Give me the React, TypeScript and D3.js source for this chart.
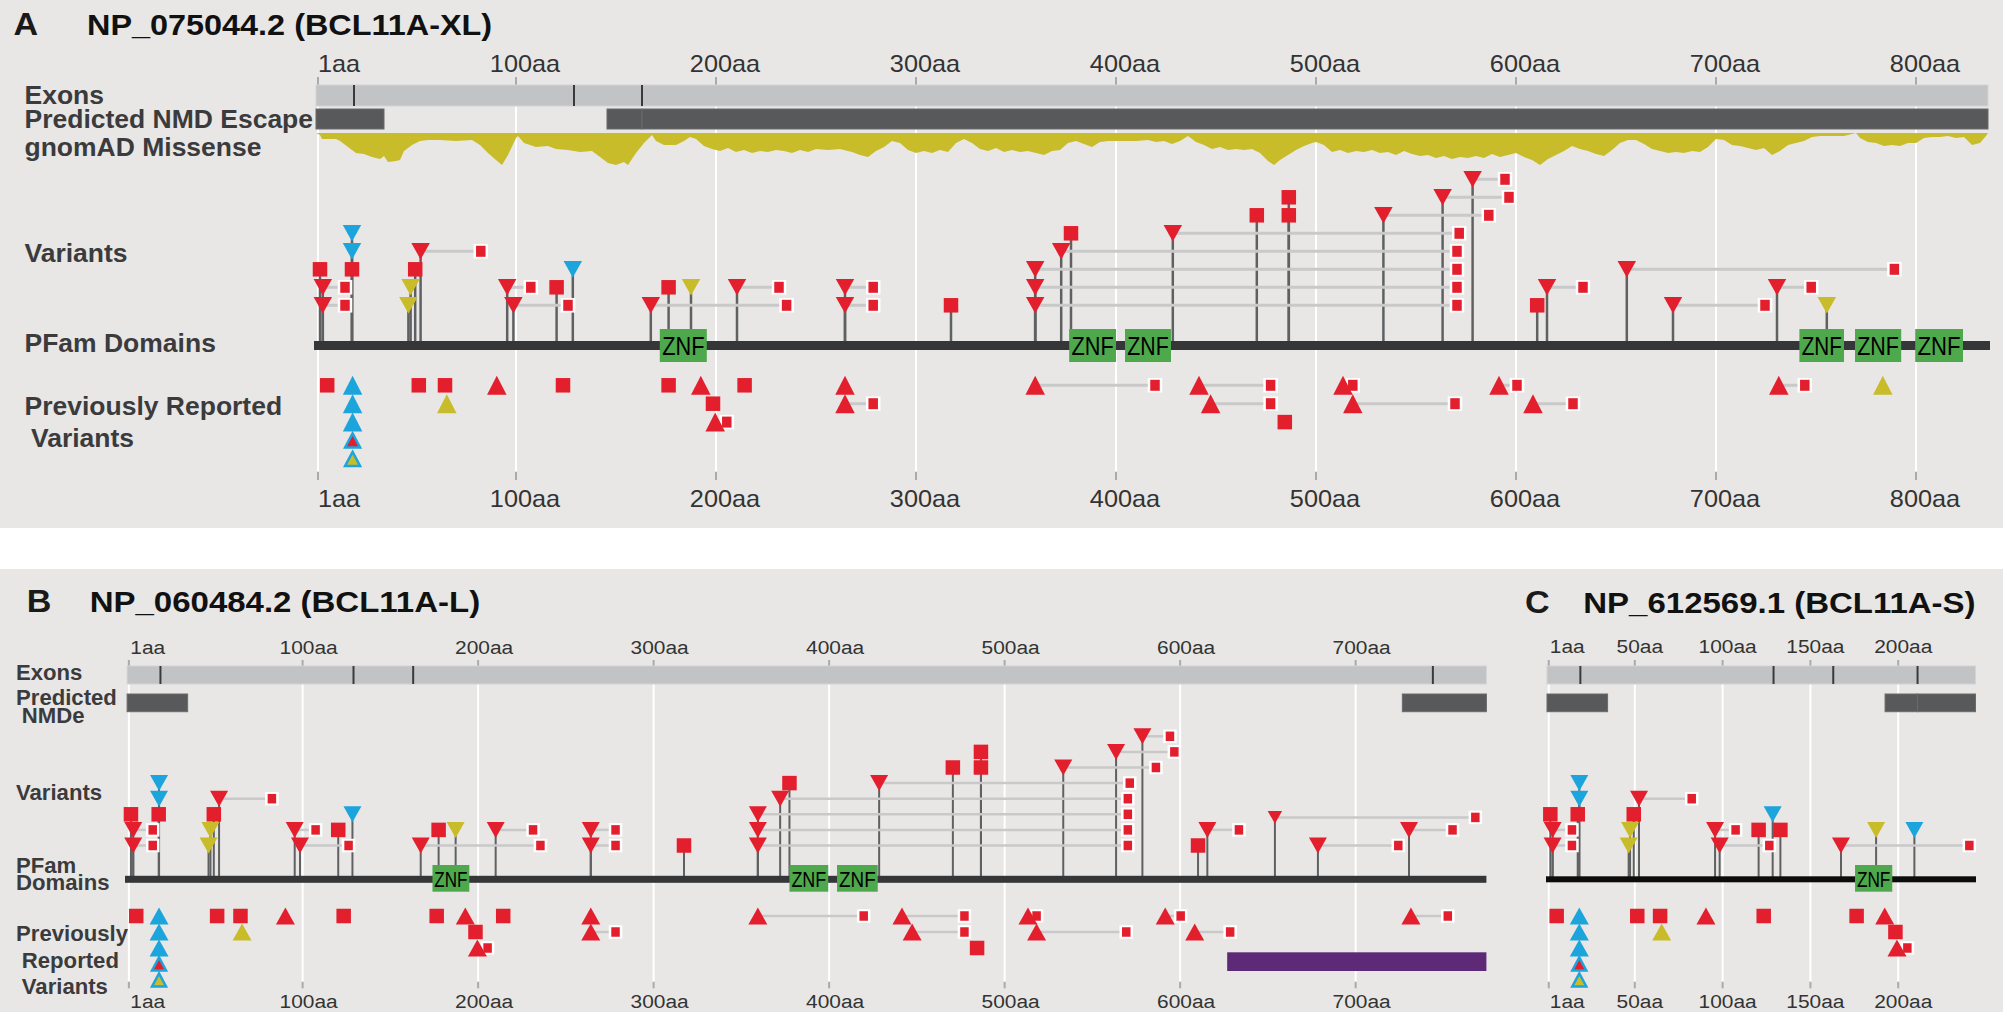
import React from 'react';
import * as d3 from 'd3';

// ---------------- DATA ----------------
type V = [number, number, string, string, number?, number?]; // aa, row, shape, colour, end aa, size factor

const titleLetters = ['A', 'B', 'C'];
const titles = ['NP_075044.2 (BCL11A-XL)', 'NP_060484.2 (BCL11A-L)', 'NP_612569.1 (BCL11A-S)'];

const lengthXL = 836;
const lengthL = 774.5;
const lengthS = 244;

const ticksXL = [1, 100, 200, 300, 400, 500, 600, 700, 800];
const ticksL = [1, 100, 200, 300, 400, 500, 600, 700];
const ticksS = [1, 50, 100, 150, 200];

const exonBoundsXL = [19, 129, 163];
const exonBoundsL = [19, 129, 163, 744];
const exonBoundsS = [19, 129, 163, 211];

const nmdXL: [number, number][] = [[0, 34], [145.5, 163], [163, 836]];
const nmdL: [number, number][] = [[0, 34.5], [726.6, 774.5]];
const nmdS: [number, number][] = [[0, 34.5], [192.5, 211], [211, 244]];

const znfXL: [number, number][] = [[171.9, 195.4], [376.6, 400], [404.5, 427.5], [741.7, 764], [769.5, 792.6], [799.6, 823.5]];
const znfL: [number, number][] = [[174, 195], [377.4, 399.5], [404.5, 427.7]];
const znfS: [number, number][] = [[175.4, 196.6]];

const highlightL: [number, number][] = [[626.8, 774.5]];

const labelsXL = ['Exons', 'Predicted NMD Escape', 'gnomAD Missense', 'Variants', 'PFam Domains', 'Previously Reported', 'Variants'];
const labelsL = ['Exons', 'Predicted', 'NMDe', 'Variants', 'PFam', 'Domains', 'Previously', 'Reported', 'Variants'];
const labelsS: string[] = [];

// gnomAD missense depletion profile (aa, depth)
const gnomadMissense: [number, number][] = [
  [0, 0], [2, 2], [3, 6], [10, 6], [12, 8], [16, 14], [20, 20], [24, 21], [28, 24], [32, 26], [34, 23], [36, 29], [40, 28],
  [42, 27], [44, 18], [48, 12], [52, 8], [56, 7], [62, 7], [70, 8], [78, 7], [82, 12], [86, 20], [90, 27], [93, 32], [96, 22],
  [100, 5], [101, 3], [104, 10], [110, 14], [116, 13], [120, 16], [126, 17], [132, 19], [138, 18], [142, 24], [146, 30],
  [150, 32], [154, 29], [156, 32], [160, 20], [164, 10], [168, 2], [170, 8], [174, 12], [180, 12], [184, 8], [187, 4],
  [190, 6], [194, 13], [198, 16], [202, 18], [206, 15], [210, 19], [214, 17], [218, 20], [222, 18], [226, 19], [230, 17],
  [234, 18], [238, 20], [242, 17], [246, 19], [250, 16], [256, 17], [262, 16], [268, 19], [272, 22], [276, 24], [280, 18],
  [284, 14], [288, 8], [292, 10], [296, 17], [300, 20], [304, 18], [308, 20], [312, 17], [316, 19], [320, 10], [324, 6],
  [328, 10], [332, 16], [336, 18], [340, 15], [344, 19], [348, 17], [352, 19], [356, 18], [360, 20], [364, 22], [368, 18],
  [372, 17], [376, 10], [380, 8], [384, 11], [388, 14], [392, 9], [396, 8], [400, 8], [404, 8], [410, 8], [416, 7], [420, 9],
  [424, 8], [428, 11], [432, 8], [436, 3], [440, 9], [444, 12], [448, 16], [452, 14], [456, 17], [460, 16], [464, 17],
  [468, 16], [472, 20], [476, 28], [479, 32], [482, 27], [486, 22], [490, 17], [494, 13], [498, 10], [500, 9], [504, 12],
  [508, 19], [512, 17], [516, 20], [520, 18], [524, 19], [528, 17], [532, 20], [536, 19], [540, 22], [544, 18], [548, 21],
  [552, 23], [556, 22], [560, 25], [564, 23], [568, 26], [572, 24], [576, 25], [580, 23], [584, 25], [588, 21], [592, 24],
  [596, 22], [600, 20], [604, 24], [608, 27], [612, 32], [616, 26], [620, 22], [624, 18], [628, 13], [632, 16], [636, 18],
  [640, 21], [644, 23], [648, 17], [652, 10], [656, 7], [660, 7], [664, 11], [668, 16], [672, 18], [676, 20], [680, 19],
  [684, 20], [688, 18], [692, 19], [696, 14], [700, 6], [704, 7], [708, 12], [712, 13], [716, 15], [720, 17], [724, 15],
  [728, 22], [732, 18], [736, 12], [740, 10], [744, 8], [748, 4], [752, 3], [756, 3], [760, 3], [764, 3], [768, 1], [770, 0],
  [772, 5], [776, 9], [780, 10], [784, 13], [788, 12], [792, 13], [796, 10], [800, 10], [804, 5], [808, 4], [812, 4],
  [816, 3], [820, 5], [824, 4], [828, 12], [832, 10], [835, 3], [836, 0],
];

const variantsXL: V[] = [
  [2, 2, 'sq', 'r'], [3.4, 1, 'tri', 'r', 14.5], [3.4, 0, 'tri', 'r', 14.5],
  [18, 4, 'tri', 'b'], [18, 3, 'tri', 'b'], [18, 2, 'sq', 'r'],
  [52.3, 3, 'tri', 'r', 82.4], [49.6, 2, 'sq', 'r'], [47.3, 1, 'tri', 'y'], [46.2, 0, 'tri', 'y'],
  [95.6, 1, 'tri', 'r', 107.4], [98.7, 0, 'tri', 'r', 126], [120.3, 1, 'sq', 'r'], [128.4, 2, 'tri', 'b'],
  [167.4, 0, 'tri', 'r', 235.3], [176.3, 1, 'sq', 'r'], [187.5, 1, 'tri', 'y'], [210.5, 1, 'tri', 'r', 231.5],
  [264.5, 1, 'tri', 'r', 278.6], [264.5, 0, 'tri', 'r', 278.6], [317.5, 0, 'sq', 'r'],
  [359.6, 2, 'tri', 'r', 570.5], [359.6, 1, 'tri', 'r', 570.5], [359.6, 0, 'tri', 'r', 570.5],
  [372.6, 3, 'tri', 'r', 570.5], [377.5, 4, 'sq', 'r'], [428.4, 4, 'tri', 'r', 571.6],
  [470.4, 5, 'sq', 'r'], [486.4, 6, 'sq', 'r'], [486.4, 5, 'sq', 'r'],
  [533.7, 5, 'tri', 'r', 586.4], [563.3, 6, 'tri', 'r', 596.5], [578.3, 7, 'tri', 'r', 594.5],
  [610.6, 0, 'sq', 'r'], [615.5, 1, 'tri', 'r', 633.5], [655.4, 2, 'tri', 'r', 789.2],
  [678.5, 0, 'tri', 'r', 724.5], [730.5, 1, 'tri', 'r', 747.6], [755.4, 0, 'tri', 'y'],
];

const reportedXL: V[] = [
  [5.6, 0, 'sq', 'r'], [18.3, 0, 'tri', 'b'], [18.3, 1, 'tri', 'b'], [18.3, 2, 'tri', 'b'], [18.3, 3, 'tri', 'rb'], [18.3, 4, 'tri', 'yb'],
  [51.4, 0, 'sq', 'r'], [64.5, 0, 'sq', 'r'], [65.4, 1, 'tri', 'y'], [90.4, 0, 'tri', 'r'], [123.5, 0, 'sq', 'r'],
  [176.3, 0, 'sq', 'r'], [192.4, 0, 'tri', 'r'], [214.3, 0, 'sq', 'r'], [198.5, 1, 'sq', 'r'], [199.6, 2, 'tri', 'r', 205.4],
  [264.5, 0, 'tri', 'r'], [264.5, 1, 'tri', 'r', 278.6], [359.6, 0, 'tri', 'r', 419.5],
  [441.5, 0, 'tri', 'r', 477.3], [447.3, 1, 'tri', 'r', 477.3], [484.4, 2, 'sq', 'r'],
  [513.5, 0, 'tri', 'r', 518.4], [518.4, 1, 'tri', 'r', 569.5], [591.5, 0, 'tri', 'r', 600.5], [608.5, 1, 'tri', 'r', 628.5],
  [731.4, 0, 'tri', 'r', 744.4], [783.4, 0, 'tri', 'y'],
];

const variantsL: V[] = [
  [2.2, 2, 'sq', 'r'], [3.5, 1, 'tri', 'r', 14.6], [3.5, 0, 'tri', 'r', 14.6],
  [18.2, 4, 'tri', 'b'], [18.2, 3, 'tri', 'b'], [18, 2, 'sq', 'r'],
  [52.4, 3, 'tri', 'r', 82.5], [49.4, 2, 'sq', 'r'], [47.5, 1, 'tri', 'y'], [46.4, 0, 'tri', 'y'],
  [95.5, 1, 'tri', 'r', 107.4], [98.5, 0, 'tri', 'r', 126.2], [120.3, 1, 'sq', 'r'], [128.4, 2, 'tri', 'b'],
  [167.3, 0, 'tri', 'r', 235.5], [177.5, 1, 'sq', 'r'], [187.2, 1, 'tri', 'y'], [210, 1, 'tri', 'r', 231.3],
  [264.2, 1, 'tri', 'r', 278.3], [264.2, 0, 'tri', 'r', 278.3], [317.3, 0, 'sq', 'r'],
  [359.4, 2, 'tri', 'r', 570.2], [359.4, 1, 'tri', 'r', 570.2], [359.4, 0, 'tri', 'r', 570.2],
  [372.1, 3, 'tri', 'r', 570.2], [377.4, 4, 'sq', 'r'], [428.5, 4, 'tri', 'r', 571.3],
  [470.5, 5, 'sq', 'r'], [486.5, 6, 'sq', 'r'], [486.5, 5, 'sq', 'r'],
  [533.4, 5, 'tri', 'r', 586.2], [563.5, 6, 'tri', 'r', 596.7], [578.5, 7, 'tri', 'r', 594.2],
  [610.2, 0, 'sq', 'r'], [615.5, 1, 'tri', 'r', 633.5], [654, 1.8, 'tri', 'r', 768.2, 0.8],
  [678.5, 0, 'tri', 'r', 724.3], [730.4, 1, 'tri', 'r', 755.2],
];

const reportedL: V[] = [
  [5.2, 0, 'sq', 'r'], [18.2, 0, 'tri', 'b'], [18.2, 1, 'tri', 'b'], [18.2, 2, 'tri', 'b'], [18.2, 3, 'tri', 'rb'], [18.2, 4, 'tri', 'yb'],
  [51.3, 0, 'sq', 'r'], [64.6, 0, 'sq', 'r'], [65.5, 1, 'tri', 'y'], [90.2, 0, 'tri', 'r'], [123.4, 0, 'sq', 'r'],
  [176.4, 0, 'sq', 'r'], [192.7, 0, 'tri', 'r'], [214.3, 0, 'sq', 'r'], [198.5, 1, 'sq', 'r'], [199.6, 2, 'tri', 'r', 205.4],
  [264.2, 0, 'tri', 'r'], [264.2, 1, 'tri', 'r', 278.3], [359.4, 0, 'tri', 'r', 419.7],
  [441.5, 0, 'tri', 'r', 477.1], [447.3, 1, 'tri', 'r', 477.1], [484.3, 2, 'sq', 'r'],
  [513.3, 0, 'tri', 'r', 518.2], [518.2, 1, 'tri', 'r', 569.3], [591.5, 0, 'tri', 'r', 600.3], [608.3, 1, 'tri', 'r', 628.5],
  [731.5, 0, 'tri', 'r', 752.5],
];

const variantsS: V[] = [
  [1.9, 2, 'sq', 'r'], [3.2, 1, 'tri', 'r', 14.2], [3.2, 0, 'tri', 'r', 14.2],
  [18.4, 4, 'tri', 'b'], [18.4, 3, 'tri', 'b'], [17.5, 2, 'sq', 'r'],
  [52.4, 3, 'tri', 'r', 82.4], [49.4, 2, 'sq', 'r'], [47.3, 1, 'tri', 'y'], [46.5, 0, 'tri', 'y'],
  [95.7, 1, 'tri', 'r', 107.4], [98.3, 0, 'tri', 'r', 126.6], [120.5, 1, 'sq', 'r'], [128.5, 2, 'tri', 'b'], [132.9, 1, 'sq', 'r'],
  [167.4, 0, 'tri', 'r', 240.5], [187.4, 1, 'tri', 'y'], [209.2, 1, 'tri', 'b'],
];

const reportedS: V[] = [
  [5.5, 0, 'sq', 'r'], [18.4, 0, 'tri', 'b'], [18.4, 1, 'tri', 'b'], [18.4, 2, 'tri', 'b'], [18.4, 3, 'tri', 'rb'], [18.4, 4, 'tri', 'yb'],
  [51.4, 0, 'sq', 'r'], [64.4, 0, 'sq', 'r'], [65.3, 1, 'tri', 'y'], [90.5, 0, 'tri', 'r'], [123.4, 0, 'sq', 'r'],
  [176.3, 0, 'sq', 'r'], [192.3, 0, 'tri', 'r'], [198.4, 1, 'sq', 'r'], [199.3, 2, 'tri', 'r', 205.2],
];

// ---------------- STYLE / LAYOUT ----------------
const COL: Record<string, string> = { r: '#e31f2e', b: '#1ca4dc', y: '#c9bc2b' };
const BG = '#e8e7e5';
const FONT = "'Liberation Sans', Arial, Helvetica, sans-serif";

const layoutXL = {
  range: [316, 1988], tickLabelTop: 71.7, tickLabelBottom: 506.7, tickTop: [77, 85], tickBottom: [471.7, 480],
  exon: [85, 106], nmd: [109, 129], gnomadTop: 133, grid: [85, 471.7],
  varRow0: 305.3, varStep: 18, pfamY: 345.5, pfamH: 9, pfamX: [314, 1990], pfamColor: '#353638',
  znf: [329, 362], znfFont: 25, znfBase: 355, prevRow0: 385.3, prevStep: 18.4,
  tickFont: 23, tickOffset: 9, firstTickOffset: 0, labelFont: 25, labelStretch: 1.06,
  tri: [18.5, 16.5], sq: 14.5, small: [14.5, 9.5, 11], upTri: [19.5, 19], outTri: [15, 14], lineW: 3, stemW: 2.5,
  letterX: 13.4, titleX: 87, titleY: 35, titleStretch: 1.08,
  labelPos: [[24.5, 104], [24.5, 128.3], [24.5, 156], [24.5, 261.7], [24.5, 351.7], [24.5, 415], [31, 447.3]],
  hl: [952.3, 971],
};
const layoutL = {
  ...layoutXL,
  range: [127.1, 1486.4], tickLabelTop: 654, tickLabelBottom: 1008, tickTop: [660, 666], tickBottom: [981.7, 988.3],
  exon: [666, 684], nmd: [694, 711.7], grid: [666, 982],
  varRow0: 845.5, varStep: 15.6, pfamY: 879.3, pfamH: 7, pfamX: [125, 1486.4], pfamColor: '#353638',
  znf: [865, 891.7], znfFont: 22, znfBase: 886.7, prevRow0: 916, prevStep: 16,
  tickFont: 19, tickOffset: 6, firstTickOffset: 1.5, labelFont: 21.5, labelStretch: 1.03,
  tri: [18, 16], sq: 14.5, small: [13.5, 8.5, 9.5], upTri: [19, 17], outTri: [14, 13], lineW: 2.5, stemW: 2,
  letterX: 26.7, titleX: 89.7, titleY: 611.7, titleStretch: 1.1,
  labelPos: [[16, 680], [16, 704.5], [21.8, 723.3], [16, 800], [16, 872.5], [16, 890], [16, 940.5], [21.8, 967.7], [21.8, 994]],
};
const layoutS = {
  ...layoutL,
  range: [1547, 1975.5], tickLabelTop: 652.5, pfamX: [1546, 1976], pfamColor: '#0c0c0c', pfamH: 6,
  tickOffset: 5, firstTickOffset: 1, letterX: 1525, titleX: 1583.3, titleY: 613, labelPos: [],
};

const STxt = ({ x, y, s = 1, anchor = 'start', size, weight = 'normal', fill = '#333', children }: any) => (
  <g transform={`translate(${x},${y}) scale(${s},1)`}>
    <text x={0} y={0} textAnchor={anchor} fontSize={size} fontWeight={weight} fill={fill} fontFamily={FONT}>{children}</text>
  </g>
);

function Panel({ L, length, ticks, exonBounds, nmd, znf, variants, reported, labels, letter, title, gnomad, highlight }: any) {
  const x = d3.scaleLinear().domain([0, length]).range(L.range);
  const vy = (r: number) => L.varRow0 - r * L.varStep;
  const py = (r: number) => L.prevRow0 + r * L.prevStep;
  const line = d3.line();
  const tri = (cx: number, cy: number, w: number, h: number, up: boolean) =>
    (up
      ? line([[cx - w / 2, cy + h / 2], [cx + w / 2, cy + h / 2], [cx, cy - h / 2]])
      : line([[cx - w / 2, cy - h / 2], [cx + w / 2, cy - h / 2], [cx, cy + h / 2]])) + 'Z';

  const marker = (d: V, y: number, up: boolean, key: string) => {
    const [aa, , shape, color, , sc = 1] = d;
    const cx = x(aa);
    if (shape === 'sq') return <rect key={key} x={cx - L.sq / 2} y={y - L.sq / 2} width={L.sq} height={L.sq} fill={COL[color]} />;
    if (color === 'rb' || color === 'yb')
      return <path key={key} d={tri(cx, y, L.outTri[0], L.outTri[1], up)} fill={COL[color[0]]} stroke={COL.b} strokeWidth={2.5} />;
    const [w, h] = up ? L.upTri : L.tri;
    return <path key={key} d={tri(cx, y, w * sc, h * sc, up)} fill={COL[color]} />;
  };
  const endSq = (aa: number, y: number, key: string) => (
    <g key={key}>
      <rect x={x(aa) - L.small[0] / 2} y={y - L.small[0] / 2} width={L.small[0]} height={L.small[0]} fill="#fff" />
      <rect x={x(aa) - L.small[1] / 2} y={y - L.small[2] / 2} width={L.small[1]} height={L.small[2]} fill={COL.r} />
    </g>
  );

  const gy = d3.scaleLinear().domain([0, 32]).range([L.gnomadTop, L.gnomadTop + 32]);
  const area = d3.area<[number, number]>().x(d => x(d[0])).y0(L.gnomadTop).y1(d => gy(d[1]));

  const tickLabelX = (t: number, i: number) => (i === 0 ? x(t) + L.firstTickOffset : x(t) + L.tickOffset);

  return (
    <g>
      {/* title */}
      <STxt x={L.letterX} y={L.titleY} s={1.1} size={31} weight="bold" fill="#1a1a1a">{letter}</STxt>
      <STxt x={L.titleX} y={L.titleY} s={L.titleStretch} size={30} weight="bold" fill="#111">{title}</STxt>

      {/* grid */}
      {ticks.map((t: number) => (
        <line key={'g' + t} x1={x(t)} x2={x(t)} y1={L.grid[0]} y2={L.grid[1]} stroke="#ffffff" strokeWidth={2} />
      ))}
      {ticks.map((t: number) => (
        <g key={'t' + t}>
          <line x1={x(t)} x2={x(t)} y1={L.tickTop[0]} y2={L.tickTop[1]} stroke="#a9aaac" strokeWidth={2} />
          <line x1={x(t)} x2={x(t)} y1={L.tickBottom[0]} y2={L.tickBottom[1]} stroke="#a9aaac" strokeWidth={2} />
        </g>
      ))}
      {ticks.map((t: number, i: number) => (
        <g key={'tl' + t}>
          <STxt x={tickLabelX(t, i)} y={L.tickLabelTop} s={1.1} size={L.tickFont} anchor={i === 0 ? 'start' : 'middle'} fill="#333">{t + 'aa'}</STxt>
          <STxt x={tickLabelX(t, i)} y={L.tickLabelBottom} s={1.1} size={L.tickFont} anchor={i === 0 ? 'start' : 'middle'} fill="#333">{t + 'aa'}</STxt>
        </g>
      ))}

      {/* exons */}
      <rect x={x(0)} y={L.exon[0]} width={x(length) - x(0)} height={L.exon[1] - L.exon[0]} fill="#c2c3c5" stroke="#d4d4d5" strokeWidth={1} />
      {exonBounds.map((b: number) => (
        <line key={'e' + b} x1={x(b)} x2={x(b)} y1={L.exon[0]} y2={L.exon[1]} stroke="#3a3a3c" strokeWidth={2} />
      ))}
      {/* NMD */}
      {nmd.map((s: [number, number], i: number) => (
        <rect key={'n' + i} x={x(s[0])} y={L.nmd[0]} width={x(s[1]) - x(s[0])} height={L.nmd[1] - L.nmd[0]} fill="#58595b" stroke="#6a6b6d" strokeWidth={1} />
      ))}
      {/* gnomAD */}
      {gnomad && <path d={area(gnomad) as string} fill="#c8bc2a" />}

      {/* stems */}
      {variants.map((d: V, i: number) => (
        <line key={'s' + i} x1={x(d[0])} x2={x(d[0])} y1={vy(d[1])} y2={L.pfamY} stroke="#5f6062" strokeWidth={L.stemW} />
      ))}
      {/* pfam */}
      <rect x={L.pfamX[0]} y={L.pfamY - L.pfamH / 2} width={L.pfamX[1] - L.pfamX[0]} height={L.pfamH} fill={L.pfamColor} />
      {znf.map((z: [number, number], i: number) => (
        <g key={'z' + i}>
          <rect x={x(z[0])} y={L.znf[0]} width={x(z[1]) - x(z[0])} height={L.znf[1] - L.znf[0]} fill="#4da94b" />
          <text x={(x(z[0]) + x(z[1])) / 2} y={L.znfBase} textAnchor="middle" fontSize={L.znfFont} fontFamily={FONT} fill="#000"
            textLength={(x(z[1]) - x(z[0])) * 0.9} lengthAdjust="spacingAndGlyphs">ZNF</text>
        </g>
      ))}

      {/* connection lines */}
      {variants.filter((d: V) => d[4] != null).map((d: V, i: number) => (
        <line key={'c' + i} x1={x(d[0])} x2={x(d[4] as number)} y1={vy(d[1])} y2={vy(d[1])} stroke="#c9c9ca" strokeWidth={L.lineW} />
      ))}
      {reported.filter((d: V) => d[4] != null).map((d: V, i: number) => (
        <line key={'pc' + i} x1={x(d[0])} x2={x(d[4] as number)} y1={py(d[1])} y2={py(d[1])} stroke="#c9c9ca" strokeWidth={L.lineW} />
      ))}
      {/* end squares */}
      {variants.filter((d: V) => d[4] != null).map((d: V, i: number) => endSq(d[4] as number, vy(d[1]), 'es' + i))}
      {reported.filter((d: V) => d[4] != null).map((d: V, i: number) => endSq(d[4] as number, py(d[1]), 'pes' + i))}
      {/* markers */}
      {variants.map((d: V, i: number) => marker(d, vy(d[1]), false, 'm' + i))}
      {reported.map((d: V, i: number) => marker(d, py(d[1]), true, 'pm' + i))}

      {highlight && highlight.map((h: [number, number], i: number) => (
        <rect key={'h' + i} x={x(h[0])} y={L.hl[0]} width={x(h[1]) - x(h[0])} height={L.hl[1] - L.hl[0]} fill="#5e2a77" />
      ))}

      {/* labels */}
      {labels.map((t: string, i: number) => (
        <STxt key={'l' + i} x={L.labelPos[i][0]} y={L.labelPos[i][1]} s={L.labelStretch} size={L.labelFont} weight="bold" fill="#3b3b3d">{t}</STxt>
      ))}
    </g>
  );
}

export default function App() {
  return (
    <svg width={2003} height={1012} style={{ position: 'absolute', left: 0, top: 0, background: '#fff' }}>
      <rect x={0} y={0} width={2003} height={528} fill={BG} />
      <rect x={0} y={569} width={2003} height={443} fill={BG} />
      <Panel L={layoutXL} length={lengthXL} ticks={ticksXL} exonBounds={exonBoundsXL} nmd={nmdXL} znf={znfXL}
        variants={variantsXL} reported={reportedXL} labels={labelsXL} letter={titleLetters[0]} title={titles[0]} gnomad={gnomadMissense} />
      <Panel L={layoutL} length={lengthL} ticks={ticksL} exonBounds={exonBoundsL} nmd={nmdL} znf={znfL}
        variants={variantsL} reported={reportedL} labels={labelsL} letter={titleLetters[1]} title={titles[1]} highlight={highlightL} />
      <Panel L={layoutS} length={lengthS} ticks={ticksS} exonBounds={exonBoundsS} nmd={nmdS} znf={znfS}
        variants={variantsS} reported={reportedS} labels={labelsS} letter={titleLetters[2]} title={titles[2]} />
    </svg>
  );
}
